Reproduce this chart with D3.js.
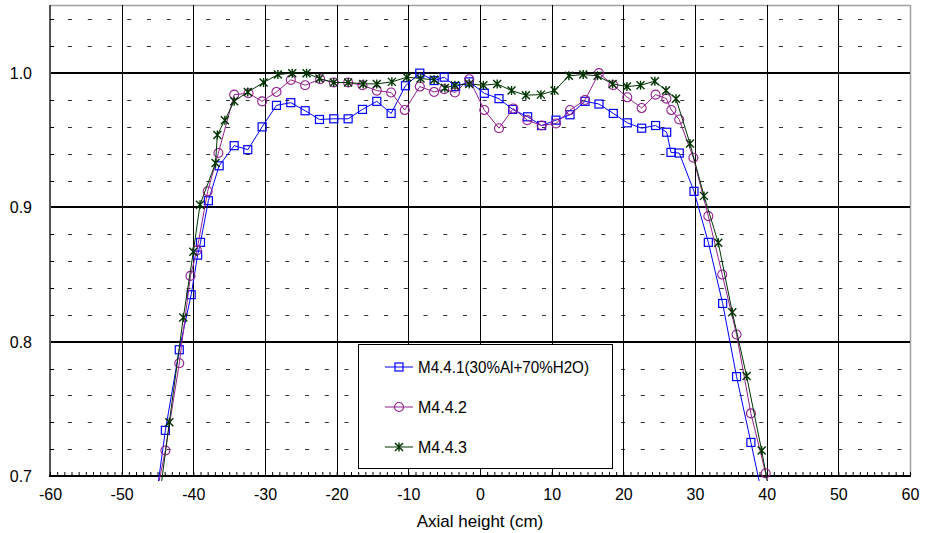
<!DOCTYPE html>
<html>
<head>
<meta charset="utf-8">
<script src="https://cdn.jsdelivr.net/npm/d3@7"></script>
<style>
  body { margin: 0; background: #fff; }
  text { font-family: Arial, "Liberation Sans", sans-serif; }
</style>
</head>
<body>
<script>
// tick labels
var xTickVals = [-60, -50, -40, -30, -20, -10, 0, 10, 20, 30, 40, 50, 60];
var yTickVals = [0.7, 0.8, 0.9, 1.0];

// series names
var seriesNames = ["M4.4.1(30%Al+70%H2O)", "M4.4.2", "M4.4.3"];

// M4.4.1 (blue squares)
var m441X = [-45.9, -43.9, -41.96, -40.3, -39.4, -39.0, -37.9, -36.4, -34.3, -32.4, -30.4, -28.4, -26.4, -24.4, -22.4, -20.4, -18.4, -16.4, -14.4,
  -12.4, -10.4, -8.4, -6.4, -5.0, -3.4, -1.5, 0.6, 2.65, 4.56, 6.65, 8.6, 10.6, 12.56, 14.65, 16.6, 18.6, 20.55, 22.56, 24.5, 26.05, 26.65, 27.8,
  29.86, 31.86, 33.86, 35.8, 37.8, 39.8];
var m441Y = [0.656, 0.734, 0.794, 0.835, 0.8645, 0.874, 0.905, 0.931, 0.946, 0.943, 0.960, 0.976, 0.978, 0.972, 0.9655, 0.966, 0.966, 0.973, 0.979,
  0.970, 0.9906, 1.0, 0.9945, 0.997, 0.990, 0.9935, 0.985, 0.981, 0.973, 0.9675, 0.961, 0.965, 0.969, 0.979, 0.977, 0.970, 0.963, 0.959, 0.961, 0.956, 0.941, 0.9405,
  0.912, 0.874, 0.8285, 0.774, 0.725, 0.675];

// M4.4.2 (purple circles)
var m442X = [-45.9, -43.9, -41.96, -40.4, -39.5, -38.0, -36.5, -34.3, -32.3, -30.4, -28.4, -26.4, -24.4, -22.3, -20.4, -18.4, -16.4, -14.4,
  -12.4, -10.5, -8.4, -6.4, -5.0, -3.5, -1.5, 0.6, 2.65, 4.65, 6.6, 8.6, 10.6, 12.56, 14.65, 16.6, 18.6, 20.55, 22.56, 24.5, 26.0, 26.7, 27.8,
  29.77, 31.86, 33.8, 35.8, 37.8, 39.86, 41.86];
var m442Y = [0.667, 0.719, 0.784, 0.849, 0.868, 0.912, 0.9405, 0.984, 0.985, 0.979, 0.986, 0.995, 0.991, 0.9955, 0.993, 0.993, 0.991, 0.987,
  0.9856, 0.9725, 0.990, 0.986, 0.988, 0.9856, 0.9955, 0.9725, 0.959, 0.9737, 0.965, 0.961, 0.9625, 0.9725, 0.980, 1.0, 0.991, 0.982, 0.974, 0.984, 0.981, 0.9725, 0.9655,
  0.937, 0.8935, 0.850, 0.8054, 0.7466, 0.702, 0.659];

// M4.4.3 (green stars)
var m443X = [-45.3, -43.35, -41.4, -40.0, -39.07, -36.9, -36.65, -35.6, -34.3, -32.4, -30.2, -28.2, -26.2, -24.2, -22.4, -20.4, -18.4, -16.3, -14.4,
  -12.3, -10.2, -8.3, -6.4, -4.9, -3.5, -1.5, 0.47, 2.4, 4.4, 6.4, 8.5, 10.4, 12.4, 14.4, 16.4, 18.5, 20.5, 22.4, 24.4, 25.95, 27.35,
  29.3, 31.25, 33.25, 35.2, 37.2, 39.3, 41.3];
var m443Y = [0.66, 0.740, 0.818, 0.867, 0.902, 0.933, 0.954, 0.965, 0.979, 0.986, 0.993, 0.999, 1.0, 1.0, 0.996, 0.993, 0.993, 0.992, 0.992,
  0.9935, 0.997, 0.996, 0.995, 0.989, 0.991, 0.992, 0.991, 0.992, 0.987, 0.9836, 0.984, 0.987, 0.998, 0.999, 0.998, 0.992, 0.990, 0.991, 0.994, 0.987, 0.981,
  0.9476, 0.9086, 0.8737, 0.822, 0.7744, 0.719, 0.661];

var W = 926, H = 533;
var pLeft = 50, pRight = 910, pTop = 5, pBottom = 476;

var svg = d3.select("body").append("svg").attr("width", W).attr("height", H);

var x = d3.scaleLinear().domain([-60, 60]).range([pLeft, pRight]);
var y = d3.scaleLinear().domain([0.7, 1.05]).range([pBottom, pTop + 1]);

// plot frame (top + right are grey)
svg.append("line").attr("x1", pLeft).attr("x2", pRight).attr("y1", pTop + 0.5).attr("y2", pTop + 0.5)
  .attr("stroke", "#a0a0a0").attr("stroke-width", 1.5);
svg.append("line").attr("x1", pRight + 0.5).attr("x2", pRight + 0.5).attr("y1", pTop).attr("y2", pBottom)
  .attr("stroke", "#a0a0a0").attr("stroke-width", 1.5);

// minor dashed horizontal grid every 0.02
var minorY = d3.range(0.72, 1.05, 0.02).filter(function(v) { return Math.abs(v * 10 - Math.round(v * 10)) > 0.01; });
svg.append("g").selectAll("line").data(minorY).enter().append("line")
  .attr("x1", 68).attr("x2", pRight)
  .attr("y1", function(d) { return Math.round(y(d)) + 0.5; })
  .attr("y2", function(d) { return Math.round(y(d)) + 0.5; })
  .attr("stroke", "#333").attr("stroke-width", 1)
  .attr("stroke-dasharray", "4 15.75");

// vertical grid every 10
var vGrid = xTickVals.filter(function(v) { return v > -60 && v < 60; });
svg.append("g").selectAll("line").data(vGrid).enter().append("line")
  .attr("x1", function(d) { return Math.round(x(d)) + 0.5; })
  .attr("x2", function(d) { return Math.round(x(d)) + 0.5; })
  .attr("y1", pTop).attr("y2", pBottom)
  .attr("stroke", "#000").attr("stroke-width", 1);

// major horizontal grid
svg.append("g").selectAll("line").data(yTickVals.slice(1)).enter().append("line")
  .attr("x1", pLeft).attr("x2", pRight)
  .attr("y1", function(d) { return Math.round(y(d)); })
  .attr("y2", function(d) { return Math.round(y(d)); })
  .attr("stroke", "#000").attr("stroke-width", 2);

// left axis: grey line, small inner ticks, labels
svg.append("line").attr("x1", pLeft).attr("x2", pLeft).attr("y1", pTop).attr("y2", pBottom)
  .attr("stroke", "#555").attr("stroke-width", 2);
svg.append("g").selectAll("line").data(minorY).enter().append("line")
  .attr("x1", pLeft).attr("x2", pLeft + 4)
  .attr("y1", function(d) { return Math.round(y(d)) + 0.5; })
  .attr("y2", function(d) { return Math.round(y(d)) + 0.5; })
  .attr("stroke", "#000");
svg.append("g").selectAll("text").data(yTickVals).enter().append("text")
  .attr("x", 32).attr("y", function(d) { return y(d) + 6; })
  .attr("text-anchor", "end").attr("font-size", 16)
  .text(function(d) { return d.toFixed(1); });

// bottom axis with minor ticks every 1
var xAxisMinor = d3.axisBottom(x).tickValues(d3.range(-60, 61, 1)).tickSize(-4).tickFormat("");
var gMinor = svg.append("g").attr("transform", "translate(0," + pBottom + ")").call(xAxisMinor);
gMinor.select(".domain").remove();
gMinor.selectAll("line").attr("stroke", "#000");

var xAxis = d3.axisBottom(x).tickValues(xTickVals).tickSize(0).tickPadding(13)
  .tickFormat(function(d) { return String(d); });
var gx = svg.append("g").attr("transform", "translate(0," + pBottom + ")").call(xAxis);
gx.select(".domain").remove();
gx.selectAll("text").attr("font-size", 16).attr("font-family", "Arial, 'Liberation Sans', sans-serif").attr("fill", "#000");

svg.append("line").attr("x1", pLeft - 1).attr("x2", pRight + 1).attr("y1", pBottom).attr("y2", pBottom)
  .attr("stroke", "#000").attr("stroke-width", 2);

svg.append("text").attr("x", x(0)).attr("y", 527).attr("text-anchor", "middle")
  .attr("font-size", 17).text("Axial height (cm)");

// series
svg.append("defs").append("clipPath").attr("id", "plotclip")
  .append("rect").attr("x", pLeft).attr("y", pTop).attr("width", pRight - pLeft).attr("height", pBottom - pTop + 5);

var series = [
  { name: seriesNames[0], xs: m441X, ys: m441Y, color: "#0000ff", marker: "square" },
  { name: seriesNames[1], xs: m442X, ys: m442Y, color: "#93208f", marker: "circle" },
  { name: seriesNames[2], xs: m443X, ys: m443Y, color: "#003300", marker: "star" }
];

function drawMarker(g, type, color) {
  if (type === "square") {
    g.append("rect").attr("x", -4).attr("y", -4).attr("width", 8).attr("height", 8)
      .attr("fill", "none").attr("stroke", color).attr("stroke-width", 1.2);
  } else if (type === "circle") {
    g.append("circle").attr("r", 4.5).attr("fill", "none").attr("stroke", color).attr("stroke-width", 1.1);
  } else {
    g.append("path").attr("d", "M0,-4.5L0,4.5M-4,-4L4,4M-4,4L4,-4")
      .attr("fill", "none").attr("stroke", color).attr("stroke-width", 1.4);
  }
}

var plot = svg.append("g").attr("clip-path", "url(#plotclip)");
var line = d3.line().x(function(d) { return x(d[0]); }).y(function(d) { return y(d[1]); });

series.forEach(function(s) {
  var pts = s.xs.map(function(v, i) { return [v, s.ys[i]]; });
  plot.append("path").datum(pts).attr("d", line)
    .attr("fill", "none").attr("stroke", s.color).attr("stroke-width", 1);
  plot.selectAll(null).data(pts).enter().append("g")
    .attr("transform", function(d) { return "translate(" + x(d[0]) + "," + y(d[1]) + ")"; })
    .each(function() { drawMarker(d3.select(this), s.marker, s.color); });
});

// legend
var lg = svg.append("g");
lg.append("rect").attr("x", 358.5).attr("y", 344.5).attr("width", 254).attr("height", 124)
  .attr("fill", "#fff").attr("stroke", "#000").attr("stroke-width", 1);
series.forEach(function(s, i) {
  var cy = 367 + i * 40;
  lg.append("line").attr("x1", 385).attr("x2", 413).attr("y1", cy).attr("y2", cy)
    .attr("stroke", s.color).attr("stroke-width", 1);
  var m = lg.append("g").attr("transform", "translate(399," + cy + ")");
  drawMarker(m, s.marker, s.color);
  var t = lg.append("text").attr("x", 418).attr("y", cy + 6).attr("font-size", 16).text(s.name);
  if (i === 0) t.attr("textLength", 171).attr("lengthAdjust", "spacingAndGlyphs");
});
</script>
</body>
</html>
